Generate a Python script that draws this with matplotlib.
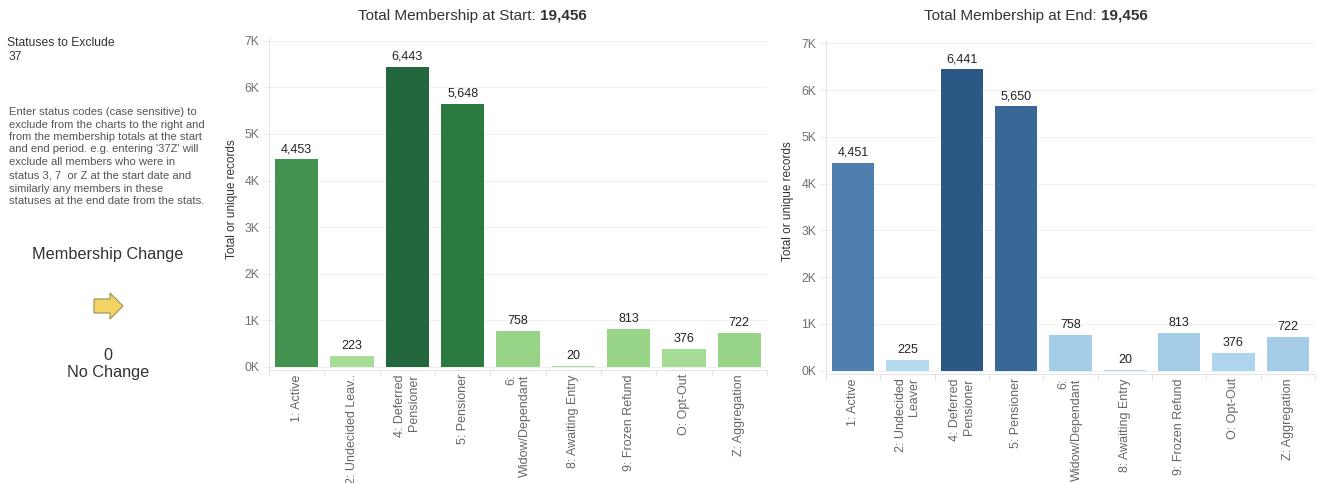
import matplotlib
matplotlib.use("Agg")
import matplotlib.pyplot as plt
import numpy as np
from matplotlib.patches import Polygon
from matplotlib.ticker import FuncFormatter

plt.rcParams['font.family'] = ['Liberation Sans', 'DejaVu Sans']

# ---------------- data ----------------
categories_start = ["1: Active", "2: Undecided Leav..", "4: Deferred\nPensioner", "5: Pensioner",
                    "6:\nWidow/Dependant", "8: Awaiting Entry", "9: Frozen Refund", "O: Opt-Out",
                    "Z: Aggregation"]
categories_end = ["1: Active", "2: Undecided\nLeaver", "4: Deferred\nPensioner", "5: Pensioner",
                  "6:\nWidow/Dependant", "8: Awaiting Entry", "9: Frozen Refund", "O: Opt-Out",
                  "Z: Aggregation"]
start_values = [4453, 223, 6443, 5648, 758, 20, 813, 376, 722]
end_values = [4451, 225, 6441, 5650, 758, 20, 813, 376, 722]
y_ticks = [0, 1000, 2000, 3000, 4000, 5000, 6000, 7000]
total_start = "19,456"
total_end = "19,456"
excluded_statuses = "37"
membership_change = "0"
change_label = "No Change"

start_colors = ["#44924f", "#a8dd98", "#23683c", "#2b7a40", "#98d487",
                "#a8dd98", "#98d487", "#a5dc95", "#98d487"]
end_colors = ["#4e7fae", "#b3d9ee", "#2b5884", "#3a6896", "#a5cde8",
              "#b3d9ee", "#a3cde7", "#aed5ed", "#a5cde8"]

W, H = 1318, 483
fig = plt.figure(figsize=(W / 100, H / 100), dpi=100)


def px(x, y):
    return x / W, 1 - y / H


def draw_chart(rect, cats, vals, colors):
    ax = fig.add_axes(rect)
    x = np.arange(len(vals))
    ax.bar(x, vals, width=0.78, color=colors, zorder=2)
    ax.set_xlim(-0.5, len(vals) - 0.5)
    ax.set_ylim(-70, 7050)
    ax.set_yticks(y_ticks)
    ax.yaxis.set_major_formatter(FuncFormatter(lambda v, p: f"{int(round(v / 1000))}K"))
    ax.grid(axis='y', color='#f0f0f0', lw=0.8, zorder=0)
    ax.set_axisbelow(True)
    for s in ['top', 'right']:
        ax.spines[s].set_visible(False)
    for s in ['left', 'bottom']:
        ax.spines[s].set_color('#e4e4e4')
        ax.spines[s].set_linewidth(0.8)
    ax.set_xticks(x)
    ax.set_xticklabels(cats, rotation=90, ha='center', va='top', multialignment='right',
                       fontsize=9, color='#666666')
    ax.set_xticks(np.arange(-0.5, len(vals), 1), minor=True)
    ax.tick_params(axis='x', which='major', length=0, pad=3)
    ax.tick_params(axis='x', which='minor', length=4, color='#e4e4e4', width=0.8)
    ax.tick_params(axis='y', length=4, color='#ececec', width=0.8, labelsize=8.8,
                   labelcolor='#707070', pad=3)
    for xi, v in zip(x, vals):
        ax.annotate(f"{v:,}", (xi, v), xytext=(0, 3), textcoords='offset points',
                    ha='center', va='bottom', fontsize=9, color='#222222')
    return ax


ax1 = draw_chart([269 / W, (H - 370) / H, (767 - 269) / W, (370 - 38.5) / H],
                 categories_start, start_values, start_colors)
ax2 = draw_chart([826 / W, (H - 374) / H, (1315 - 826) / W, (374 - 41) / H],
                 categories_end, end_values, end_colors)

# y labels
fig.text(*px(232, 199), "Total or unique records", rotation=90, ha='center', va='center',
         fontsize=8.5, color='#333333')
fig.text(*px(788, 201), "Total or unique records", rotation=90, ha='center', va='center',
         fontsize=8.5, color='#333333')

# titles with bold part
renderer = fig.canvas.get_renderer()


def mixed_title(cx, base_y, normal, bold):
    t1 = fig.text(0, 0, normal, fontsize=11, color='#333333', ha='left', va='baseline')
    t2 = fig.text(0, 0, bold, fontsize=11, color='#333333', ha='left', va='baseline',
                  fontweight='bold')
    w1 = t1.get_window_extent(renderer).width
    w2 = t2.get_window_extent(renderer).width
    total = w1 + w2
    x0 = cx - total / 2
    t1.set_position(px(x0, base_y))
    t2.set_position(px(x0 + w1, base_y))


mixed_title(472, 20, "Total Membership at Start: ", total_start)
mixed_title(1036, 20, "Total Membership at End: ", total_end)

# left panel
fig.text(*px(7, 43), "Statuses to Exclude", fontsize=8.7, color='#333333', ha='left', va='center')
fig.text(*px(9, 57), excluded_statuses, fontsize=8.7, color='#333333', ha='left', va='center')
para = ["Enter status codes (case sensitive) to",
        "exclude from the charts to the right and",
        "from the membership totals at the start",
        "and end period. e.g. entering '37Z' will",
        "exclude all members who were in",
        "status 3, 7  or Z at the start date and",
        "similarly any members in these",
        "statuses at the end date from the stats."]
line_y = [112, 124.5, 137, 149.5, 162, 175, 188.5, 200.5]
for s, yy in zip(para, line_y):
    fig.text(*px(9, yy), s, fontsize=8.1, color='#555555', ha='left', va='center')

fig.text(*px(108, 254), "Membership Change", fontsize=11.7, color='#333333', ha='center', va='center')
fig.text(*px(108, 355), membership_change, fontsize=11.7, color='#333333', ha='center', va='center')
fig.text(*px(108, 373), change_label, fontsize=11.7, color='#333333', ha='center', va='center')

arrow_px = [(94, 299), (110, 299), (110, 293), (123, 306), (110, 319), (110, 313), (94, 313)]
arrow = Polygon([px(a, b) for a, b in arrow_px], closed=True, transform=fig.transFigure,
                facecolor='#f2d464', edgecolor='#9a8e5a', lw=0.8)
fig.patches.append(arrow)

fig.savefig("out.png", dpi=100)
